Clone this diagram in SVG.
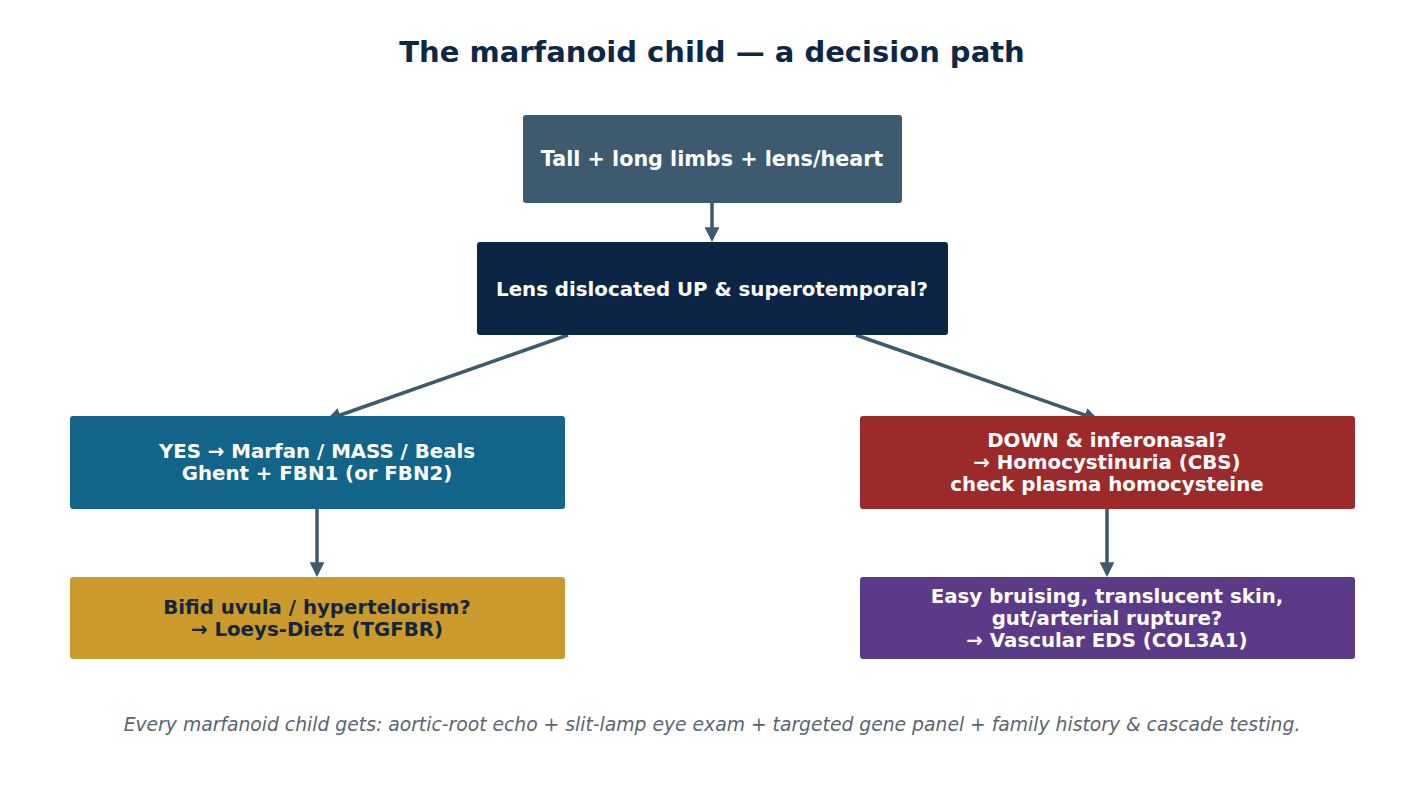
<svg xmlns="http://www.w3.org/2000/svg" width="1425" height="792" viewBox="0 0 1425 792">
<style>
.t{font-family:"DejaVu Sans",sans-serif;font-weight:bold;text-anchor:middle;font-size:19.8px;fill:#ffffff}
.d{fill:#13263d}
.c{stroke:#3d5a6e;stroke-width:3.5;fill:none;marker-end:url(#ah)}
</style>
<defs>
<marker id="ah" viewBox="0 0 10 10" refX="8" refY="5" markerWidth="4.2" markerHeight="4.2" orient="auto" markerUnits="strokeWidth">
<path d="M0,0 L10,5 L0,10 z" fill="#3d5a6e"/>
</marker>
</defs>
<rect width="1425" height="792" fill="#ffffff"/>
<text x="712" y="62" style="font-family:'DejaVu Sans',sans-serif;font-weight:bold;font-size:29px;fill:#0d2847;text-anchor:middle">The marfanoid child — a decision path</text>
<g id="connectors">
<line class="c" x1="712" y1="203" x2="712" y2="239"/>
<line class="c" x1="568" y1="335" x2="329" y2="419"/>
<line class="c" x1="856" y1="335" x2="1096" y2="419"/>
<line class="c" x1="317" y1="509" x2="317" y2="574"/>
<line class="c" x1="1107" y1="509" x2="1107" y2="574"/>
</g>
<g id="n1">
<rect x="523" y="115" width="379" height="88" rx="3" fill="#3d5a6e"/>
<text class="t" x="712" y="166" style="font-size:20.7px">Tall + long limbs + lens/heart</text>
</g>
<g id="n2">
<rect x="477" y="242" width="471" height="93" rx="3" fill="#0c2545"/>
<text class="t" x="712" y="296">Lens dislocated UP &amp; superotemporal?</text>
</g>
<g id="n3">
<rect x="70" y="416" width="495" height="93" rx="3" fill="#136489"/>
<text class="t" x="317" y="458">YES → Marfan / MASS / Beals</text>
<text class="t" x="317" y="480">Ghent + FBN1 (or FBN2)</text>
</g>
<g id="n4">
<rect x="860" y="416" width="495" height="93" rx="3" fill="#9c2a2b"/>
<text class="t" x="1107" y="447">DOWN &amp; inferonasal?</text>
<text class="t" x="1107" y="469">→ Homocystinuria (CBS)</text>
<text class="t" x="1107" y="491">check plasma homocysteine</text>
</g>
<g id="n5">
<rect x="70" y="577" width="495" height="82" rx="3" fill="#cb9a2c"/>
<text class="t d" x="317" y="614">Bifid uvula / hypertelorism?</text>
<text class="t d" x="317" y="636">→ Loeys-Dietz (TGFBR)</text>
</g>
<g id="n6">
<rect x="860" y="577" width="495" height="82" rx="3" fill="#5b3a87"/>
<text class="t" x="1107" y="603">Easy bruising, translucent skin,</text>
<text class="t" x="1107" y="625">gut/arterial rupture?</text>
<text class="t" x="1107" y="647">→ Vascular EDS (COL3A1)</text>
</g>
<text x="712" y="731" style="font-family:'DejaVu Sans',sans-serif;font-style:italic;font-size:18.75px;fill:#5a6572;text-anchor:middle">Every marfanoid child gets: aortic-root echo + slit-lamp eye exam + targeted gene panel + family history &amp; cascade testing.</text>
</svg>
